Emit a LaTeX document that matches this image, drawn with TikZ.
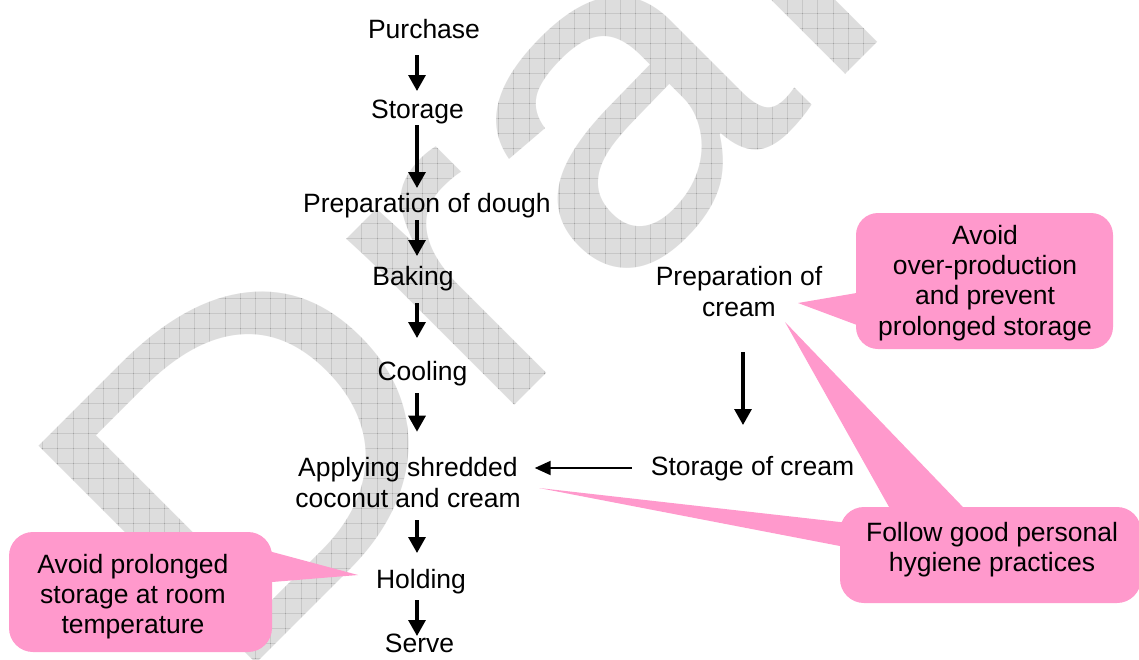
\documentclass[tikz,border=0pt]{standalone}
\usepackage{fontspec}
\setmainfont{Liberation Sans}
\usetikzlibrary{arrows.meta}
\definecolor{calloutpink}{HTML}{FF99CC}
\definecolor{wmgray}{HTML}{DDDDDD}
\tikzset{
  lbl/.style={font=\fontsize{13.25}{15.1}\selectfont, align=center, inner sep=0pt, outer sep=0pt},
  one/.style={lbl, text height=10pt, text depth=3pt},
  arr/.style={line width=1.6pt, -{Triangle[length=8pt,width=8.5pt]}},
  harr/.style={line width=1pt, -{Triangle[length=8pt,width=7pt]}},
  callout/.style={fill=calloutpink, draw=none},
  gridline/.style={line width=0.45pt, color=black!40},
  watermark/.style={font=\fontsize{223.5}{223.5}\selectfont, text=wmgray, rotate=45, xscale=1.152, anchor=base west, inner sep=0pt, outer sep=0pt},
}
\begin{document}
\begin{tikzpicture}[x=0.5pt, y=-0.5pt]
\useasboundingbox (0,0) rectangle (1139,659);
\clip (0,0) rectangle (1139,659);
\fill[white] (0,0) rectangle (1139,659);
% watermark
\node[watermark] (wm) at (226.5,693) {Draft};
\begin{scope}[blend mode=color burn]
  \foreach \gx in {0,...,74} {\draw[gridline] ({12.2+15.2*\gx},0) -- ({12.2+15.2*\gx},659);}
  \foreach \gy in {0,...,44} {\draw[gridline] (0,{13.3+15*\gy}) -- (1139,{13.3+15*\gy});}
\end{scope}
% callout shapes
\fill[callout, rounded corners=11pt] (856,213) rectangle (1113,349);
\coordinate (tipA) at (798,303);
\fill[callout] (tipA) -- (880,289) -- (880,333.6) -- cycle;
\fill[callout, rounded corners=12pt] (840,507) rectangle (1141,603);
\coordinate (tipB) at (785,322);
\coordinate (tipC) at (539,488);
\fill[callout] (tipB) -- (902,530) -- (985,530) -- cycle;
\fill[callout] (tipC) -- (870,525.4) -- (870,551.8) -- cycle;
\fill[callout, rounded corners=12pt] (9,532) rectangle (272,652);
\coordinate (tipD) at (358,575);
\fill[callout] (tipD) -- (250,546) -- (250,583.8) -- cycle;
% nodes
\node[one] (purchase) at (424,31) {Purchase};
\node[one] (storage) at (417.5,111) {Storage};
\node[one] (dough) at (427,205) {Preparation of dough};
\node[one] (baking) at (413,278) {Baking};
\node[one] (cooling) at (422.5,373) {Cooling};
\node[lbl] (applying) at (408,482.5) {Applying shredded\\coconut and cream};
\node[one] (holding) at (421,581) {Holding};
\node[one] (serve) at (419.5,645) {Serve};
\node[lbl] (prepcream) at (739,291.5) {Preparation of\\cream};
\node[one] (storcream) at (752.5,468) {Storage of cream};
\node[lbl] (avoid1) at (985,283) {Avoid\\over-production\\and prevent\\prolonged storage};
\node[lbl] (hygiene) at (992,549.5) {Follow good personal\\hygiene practices};
\node[lbl] (avoid2) at (133,596.5) {Avoid prolonged\\storage at room\\temperature};
% connectors
\coordinate (spine) at (417,0);
\coordinate (rspine) at (743,0);
\draw[arr, shorten <=5.5pt, shorten >=3.5pt] (purchase.south -| spine) -- (storage.north -| spine);
\draw[arr, shorten <=0.5pt, shorten >=2pt] (storage.south -| spine) -- (dough.north -| spine);
\draw[arr, shorten <=1pt, shorten >=4.5pt] (dough.south -| spine) -- (baking.north -| spine);
\draw[arr, shorten <=6pt, shorten >=11pt] (baking.south -| spine) -- (cooling.north -| spine);
\draw[arr, shorten <=3.5pt, shorten >=13pt] (cooling.south -| spine) -- (applying.north -| spine);
\draw[arr, shorten <=6.5pt, shorten >=7.5pt] (applying.south -| spine) -- (holding.north -| spine);
\draw[arr, shorten <=3pt, shorten >=-2pt] (holding.south -| spine) -- (serve.north -| spine);
\draw[arr, shorten <=18pt, shorten >=15pt] (prepcream.south -| rspine) -- (storcream.north -| rspine);
\draw[harr, shorten <=9.5pt, shorten >=7pt] (storcream.west) -- (storcream.west -| applying.east);
\end{tikzpicture}
\end{document}
